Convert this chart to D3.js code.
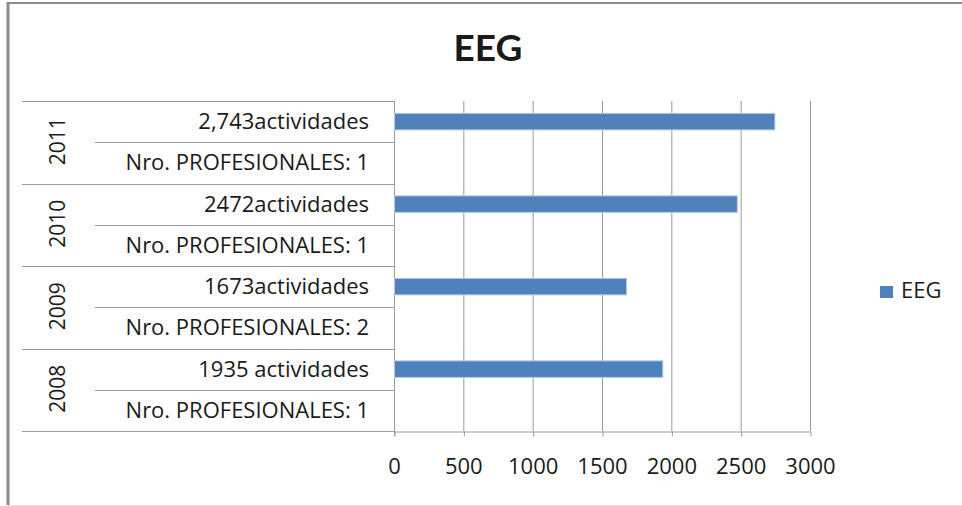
<!DOCTYPE html>
<html>
<head>
<meta charset="utf-8">
<script src="https://cdn.jsdelivr.net/npm/d3@7"></script>
<style>
body { margin: 0; background: #fff; }
text { font-family: "Open Sans", sans-serif; fill: #1a1a1a; }
</style>
</head>
<body>
<script>
'use strict';

// chart values, top row first like the picture
var years = ["2011", "2010", "2009", "2008"];
var activityLabels = ["2,743actividades", "2472actividades", "1673actividades", "1935 actividades"];
var staffLabels = ["Nro. PROFESIONALES: 1", "Nro. PROFESIONALES: 1", "Nro. PROFESIONALES: 2", "Nro. PROFESIONALES: 1"];
var activityValues = [2743, 2472, 1673, 1935];
var xTicks = [0, 500, 1000, 1500, 2000, 2500, 3000];
var seriesName = "EEG";

var W = 962, H = 506;
var plot = {left: 394, right: 810, top: 101, bottom: 431};
var barColor = "#4f81bd";
var gridColor = "#9a9a9a";
var labelSize = "22px";

// two rows per year: activity label (with bar) then staff label
var rows = [];
years.forEach(function(y, i) {
    rows.push({id: y + "-a", year: y, label: activityLabels[i], value: activityValues[i]});
    rows.push({id: y + "-p", year: y, label: staffLabels[i], value: null});
});

var svg = d3.select("body").append("svg")
    .attr("width", W)
    .attr("height", H);

// outer chart frame
svg.append("line").attr("x1", 8).attr("x2", W).attr("y1", 3).attr("y2", 3)
    .attr("stroke", "#8c8c8c").attr("stroke-width", 2);
svg.append("line").attr("x1", 8).attr("x2", 8).attr("y1", 2).attr("y2", 505)
    .attr("stroke", "#8c8c8c").attr("stroke-width", 3);
svg.append("line").attr("x1", 8).attr("x2", W).attr("y1", 505.5).attr("y2", 505.5)
    .attr("stroke", "#e0e0e0").attr("stroke-width", 1);

var x = d3.scaleLinear().domain([0, 3000]).range([plot.left, plot.right]);
var y = d3.scaleBand().domain(rows.map(function(d) { return d.id; }))
    .range([plot.top, plot.bottom]).padding(0);

// title
svg.append("text")
    .attr("x", 488).attr("y", 61)
    .attr("text-anchor", "middle")
    .style("font-family", "Lato, sans-serif")
    .style("font-weight", "bold")
    .style("font-size", "37px")
    .text("EEG");

// vertical grid lines
svg.append("g").selectAll("line.grid")
    .data(xTicks.slice(1))
    .join("line")
    .attr("class", "grid")
    .attr("x1", function(d) { return x(d) + 0.5; })
    .attr("x2", function(d) { return x(d) + 0.5; })
    .attr("y1", plot.top).attr("y2", plot.bottom)
    .attr("stroke", gridColor).attr("stroke-width", 1);

// bottom value axis
var xAxis = svg.append("g")
    .attr("transform", "translate(0," + (plot.bottom + 0.5) + ")")
    .call(d3.axisBottom(x).tickValues(xTicks).tickFormat(d3.format("d"))
        .tickSize(5).tickSizeOuter(0).tickPadding(22));
xAxis.select(".domain").attr("stroke", gridColor);
xAxis.selectAll(".tick line").attr("stroke", gridColor).attr("transform", "translate(0.5,0)");
xAxis.selectAll(".tick text")
    .style("font-family", "'Open Sans', sans-serif")
    .style("font-size", labelSize)
    .attr("fill", "#1a1a1a");

// category axis lines: long ones between years, short ones inside a year
var bounds = [];
rows.forEach(function(r, i) {
    bounds.push({y: y(r.id), outer: i % 2 === 0});
});
bounds.push({y: plot.bottom, outer: true});
svg.append("g").selectAll("line")
    .data(bounds)
    .join("line")
    .attr("x1", function(d) { return d.outer ? 22 : 95; })
    .attr("x2", plot.left)
    .attr("y1", function(d) { return Math.round(d.y) + 0.5; })
    .attr("y2", function(d) { return Math.round(d.y) + 0.5; })
    .attr("stroke", gridColor);

svg.append("line")
    .attr("x1", plot.left + 0.5).attr("x2", plot.left + 0.5)
    .attr("y1", plot.top).attr("y2", plot.bottom + 5)
    .attr("stroke", gridColor);

// inner category labels
svg.append("g").selectAll("text")
    .data(rows)
    .join("text")
    .attr("x", 369)
    .attr("y", function(d) { return y(d.id) + y.bandwidth() / 2 + 7.5; })
    .attr("text-anchor", "end")
    .style("font-size", labelSize)
    .text(function(d) { return d.label; });

// year labels, rotated
svg.append("g").selectAll("text")
    .data(years)
    .join("text")
    .attr("transform", function(d) {
        var cy = y(d + "-a") + y.bandwidth() - 1;
        return "translate(65," + cy + ") rotate(-90)";
    })
    .attr("text-anchor", "middle")
    .style("font-size", "21px")
    .text(function(d) { return d; });

// bars
var barH = y.bandwidth() * 0.4;
svg.append("g").selectAll("rect")
    .data(rows.filter(function(d) { return d.value !== null; }))
    .join("rect")
    .attr("x", x(0) + 0.5)
    .attr("y", function(d) { return y(d.id) + (y.bandwidth() - barH) / 2; })
    .attr("width", function(d) { return x(d.value) - x(0); })
    .attr("height", barH)
    .attr("fill", barColor)
    .attr("stroke", "#b3c8e3")
    .attr("stroke-width", 1);

// legend
var legend = svg.append("g").attr("transform", "translate(880,286)");
legend.append("rect").attr("width", 13).attr("height", 12).attr("fill", barColor);
legend.append("text").attr("x", 21).attr("y", 12)
    .style("font-size", labelSize)
    .text(seriesName);
</script>
</body>
</html>
